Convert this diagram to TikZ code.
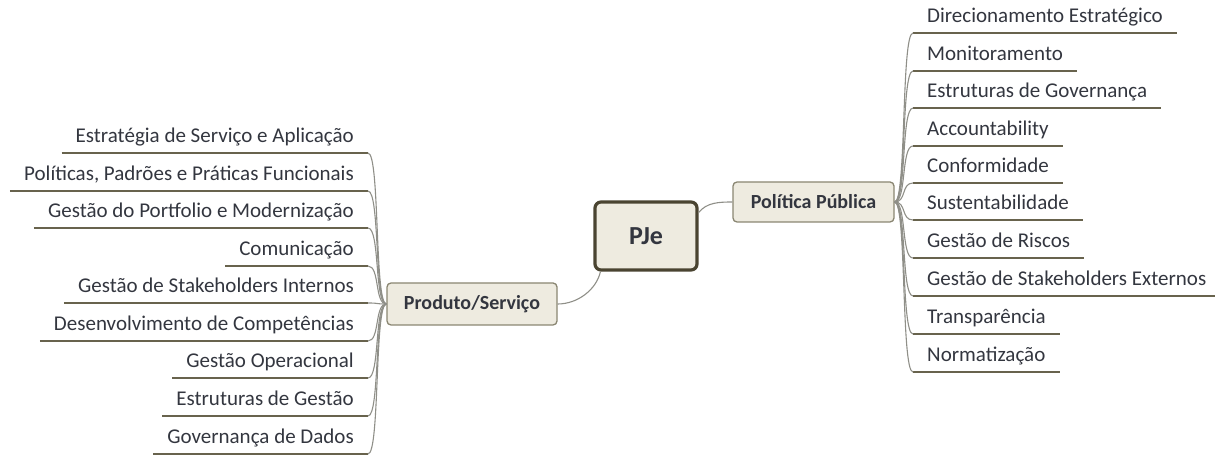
\documentclass[tikz,border=0pt]{standalone}
\usepackage{fontspec}
\setmainfont{Carlito}
\definecolor{txt}{HTML}{33363F}
\definecolor{boxfill}{HTML}{EEEBE0}
\definecolor{boxline}{HTML}{8A8672}
\definecolor{rootline}{HTML}{4A4431}
\definecolor{uline}{HTML}{68634D}
\definecolor{branchc}{HTML}{8F8F88}
\tikzset{
  itemr/.style={anchor=south west, font=\fontsize{21}{24}\selectfont, text=txt, inner xsep=14pt, inner ysep=4pt, text depth=6pt},
  iteml/.style={itemr, anchor=south east},
  underl/.style={draw=uline, line width=2.8pt},
  branch/.style={draw=branchc, line width=1.1pt},
  topic/.style={draw=boxline, fill=boxfill, line width=1.3pt, rounded corners=4pt, text=txt, font=\bfseries\fontsize{20}{24}\selectfont, inner sep=0pt},
  rootbox/.style={draw=rootline, fill=boxfill, line width=3.2pt, rounded corners=6pt, text=txt, font=\bfseries\fontsize{26}{30}\selectfont, inner sep=0pt, minimum width=102pt, minimum height=68pt}
}
\begin{document}
\begin{tikzpicture}[x=1pt,y=1pt]
\useasboundingbox (0,0) rectangle (1215,458);
\node[rootbox] (pje) at (646,222) {PJe};
\node[topic, minimum width=161pt, minimum height=40pt] (pol) at (813.5,256) {Política Pública};
\node[topic, minimum width=170pt, minimum height=42pt] (prod) at (472,154) {Produto/Serviço};
\draw[branch] (pje.24) .. controls +(8,10) and +(-14,0) .. (pol.west);
\draw[branch] (pje.218) .. controls +(-4,-18) and +(20,0) .. (prod.east);
\foreach \i/\y/\t in {1/425/{Direcionamento Estratégico},2/387/{Monitoramento},3/350/{Estruturas de Governança},4/312/{Accountability},5/275/{Conformidade},6/238/{Sustentabilidade},7/200/{Gestão de Riscos},8/162/{Gestão de Stakeholders Externos},9/124/{Transparência},10/86/{Normatização}}{
  \node[itemr] (r\i) at (913,\y) {\t};
  \draw[underl] (r\i.south west) -- (r\i.south east);
  \draw[branch] (pol.east) .. controls +(12,0) and +(-12,0) .. (r\i.south west);
}
\foreach \i/\y/\t in {1/305/{Estratégia de Serviço e Aplicação},2/267/{Políticas, Padrões e Práticas Funcionais},3/230/{Gestão do Portfolio e Modernização},4/192/{Comunicação},5/155/{Gestão de Stakeholders Internos},6/117/{Desenvolvimento de Competências},7/80/{Gestão Operacional},8/42/{Estruturas de Gestão},9/4/{Governança de Dados}}{
  \node[iteml] (l\i) at (368,\y) {\t};
  \draw[underl] (l\i.south west) -- (l\i.south east);
  \draw[branch] (prod.west) .. controls +(-12,0) and +(12,0) .. (l\i.south east);
}
\end{tikzpicture}
\end{document}
